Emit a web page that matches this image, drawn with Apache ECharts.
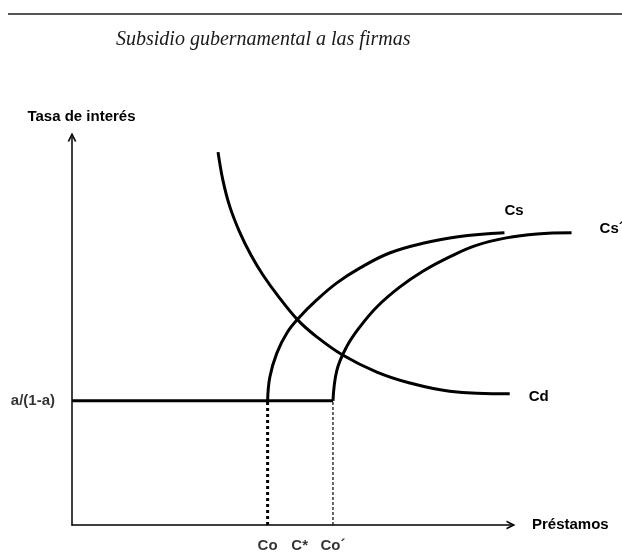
<!DOCTYPE html>
<html>
<head>
<meta charset="utf-8">
<script src="https://cdn.jsdelivr.net/npm/echarts@6/dist/echarts.min.js"></script>
<style>
html, body { margin: 0; padding: 0; background: #fff; }
#grafico { width: 622px; height: 552px; }
</style>
</head>
<body>
<div id="grafico"></div>
<script>
/*#################    datos  #####################*/
var tasaMinima = 32;          // a/(1-a)
var co = 44.6, cEstrella = 51.9, coPrima = 59.5;

var pisoData = [[0, tasaMinima], [coPrima, tasaMinima]];

var csData = [[44.6, 32], [45.1, 38.1], [46.7, 44.3], [49.0, 49.5], [51.9, 53.6], [55.8, 58.0],
    [60.4, 62.4], [65.6, 66.2], [72.4, 70.1], [80.0, 72.6], [88.0, 74.3], [98.6, 75.3]];

var csPrimaData = [[59.5, 32], [60.4, 39.9], [62.6, 45.9], [65.6, 51.0], [69.5, 56.2], [74.7, 61.3],
    [80.0, 65.4], [86.1, 69.1], [92.0, 72.0], [99.0, 74.0], [106.0, 75.0], [113.9, 75.3]];

var cdData = [[33.3, 96.1], [34.4, 88.9], [36.0, 82.0], [38.3, 75.3], [40.8, 69.6], [43.5, 64.5],
    [47.0, 59.0], [51.5, 52.8], [55.8, 48.5], [61.7, 43.8], [69.5, 39.4], [77.0, 36.6], [86.1, 34.5], [99.8, 33.8]];

var marcasX = [[co, 0, 'Co'], [cEstrella, 0, 'C*'], [coPrima, 0, 'Co´']];

/*#################    grafico  #####################*/
var dom = document.getElementById("grafico");
var myChart = echarts.init(dom);

var flecha = 'path://M0,10 L5,0 L10,10 L8,10 L5,4 L2,10 Z';
var fuente = { fontFamily: 'Liberation Sans', fontSize: 15, fontWeight: 'bold', color: '#000' };

function curva(nombre, datos, etiqueta, desplaz) {
    return {
        name: nombre,
        type: 'line',
        data: datos,
        smooth: 0.4,
        symbol: 'none',
        lineStyle: { color: '#000', width: 3 },
        endLabel: Object.assign({ show: true, formatter: etiqueta, offset: desplaz }, fuente)
    };
}

var option = {
    animation: false,
    title: {
        text: 'Subsidio gubernamental a las firmas',
        left: 111,
        top: 25,
        textStyle: {
            fontFamily: 'Liberation Serif',
            fontStyle: 'italic',
            fontWeight: 'normal',
            fontSize: 20,
            color: '#1a1a1a'
        }
    },
    graphic: [
        {
            type: 'line',
            shape: { x1: 8, y1: 14, x2: 622, y2: 14 },
            style: { stroke: '#555', lineWidth: 2 }
        }
    ],
    grid: [
        { left: 72, top: 137, right: 50, bottom: 27 },   // datos (misma escala, mas ancha)
        { left: 72, top: 137, right: 111, bottom: 27 }   // ejes con flecha
    ],
    xAxis: [
        { gridIndex: 0, type: 'value', min: 0, max: 114, show: false },
        {
            gridIndex: 1,
            type: 'value',
            min: 0,
            max: 100,
            name: 'Préstamos',
            nameLocation: 'end',
            nameGap: 21,
            nameTextStyle: fuente,
            axisLine: { show: true, lineStyle: { color: '#000', width: 1.5 }, symbol: ['none', flecha], symbolSize: [12, 9] },
            axisTick: { show: false },
            axisLabel: { show: false },
            splitLine: { show: false }
        }
    ],
    yAxis: [
        { gridIndex: 0, type: 'value', min: 0, max: 100, show: false },
        {
            gridIndex: 1,
            type: 'value',
            min: 0,
            max: 100,
            name: 'Tasa de interés',
            nameLocation: 'end',
            nameGap: 13,
            nameTextStyle: Object.assign({ align: 'center', padding: [0, 0, 0, 19] }, fuente),
            axisLine: { show: true, lineStyle: { color: '#000', width: 1.5 }, symbol: ['none', flecha], symbolSize: [12, 9] },
            axisTick: { show: false },
            axisLabel: { show: false },
            splitLine: { show: false }
        }
    ],
    series: [
        {
            name: 'piso',
            type: 'line',
            data: pisoData,
            symbol: 'none',
            lineStyle: { color: '#000', width: 3 }
        },
        curva('Cs', csData, 'Cs', [-8, -22]),
        curva('Cs´', csPrimaData, 'Cs´', [20, -4]),
        curva('Cd', cdData, 'Cd', [11, 3]),
        {
            name: 'Co punteada',
            type: 'line',
            data: [[co, 0], [co, tasaMinima]],
            symbol: 'none',
            lineStyle: { color: '#000', width: 3, type: [3, 3] }
        },
        {
            name: 'Co´ punteada',
            type: 'line',
            data: [[coPrima, 0], [coPrima, tasaMinima]],
            symbol: 'none',
            lineStyle: { color: '#000', width: 1.2, type: [3, 2] }
        },
        {
            name: 'etiquetas',
            type: 'scatter',
            symbolSize: 0,
            clip: false,
            data: marcasX.concat([{
                value: [0, tasaMinima, 'a/(1-a)'],
                label: { position: 'left', distance: 17 }
            }]),
            label: Object.assign({
                show: true,
                position: 'bottom',
                distance: 13,
                formatter: function (p) { return p.value[2]; }
            }, fuente)
        }
    ]
};

if (option && typeof option === "object") {
    myChart.setOption(option, true);
}
</script>
</body>
</html>
